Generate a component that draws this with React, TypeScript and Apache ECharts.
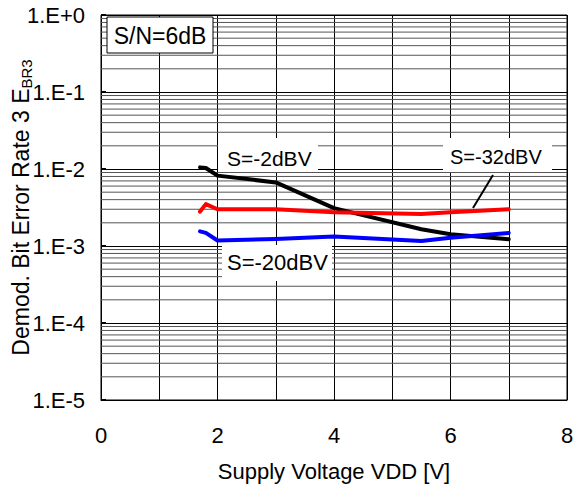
import React, { useEffect, useRef } from "react";
import * as echarts from "echarts";

const vdd = [1.7, 1.8, 2, 3, 4, 5.5, 6, 7];
const berSm2 = [1.05e-2, 1.03e-2, 8.2e-3, 6.7e-3, 3.1e-3, 1.65e-3, 1.42e-3, 1.22e-3];
const berSm32 = [2.8e-3, 3.5e-3, 3.0e-3, 3.0e-3, 2.75e-3, 2.6e-3, 2.75e-3, 3.0e-3];
const berSm20 = [1.55e-3, 1.48e-3, 1.18e-3, 1.23e-3, 1.33e-3, 1.16e-3, 1.28e-3, 1.48e-3];
const decades = [-5, -4, -3, -2, -1];
const minorMultipliers = [2, 3, 4, 5, 6, 7, 8, 9];
const xRange = [0, 8];

const FONT = "Liberation Sans, Arial, sans-serif";

export default function App() {
  const ref = useRef<HTMLDivElement>(null);
  useEffect(() => {
    if (!ref.current) return;
    const chart = echarts.init(ref.current, null, { renderer: "svg" });
    const pairs = (ys: number[]) => vdd.map((x, i) => [x, ys[i]]);
    const minorSeries: any[] = [];
    decades.forEach((d) =>
      minorMultipliers.forEach((m) => {
        const v = m * Math.pow(10, d);
        minorSeries.push({
          type: "line",
          data: [
            [xRange[0], v],
            [xRange[1], v],
          ],
          symbol: "none",
          silent: true,
          z: 1,
          lineStyle: { color: "#555", width: 1 },
        });
      })
    );
    const txt = (size: number) => ({ fontFamily: FONT, fontSize: size, fill: "#000" });
    chart.setOption({
      animation: false,
      backgroundColor: "#fff",
      grid: {
        left: 101,
        top: 15,
        width: 466,
        height: 385,
        show: true,
        borderColor: "#000",
        borderWidth: 1,
        containLabel: false,
        outerBoundsMode: "none",
      },
      xAxis: {
        type: "value",
        min: xRange[0],
        max: xRange[1],
        interval: 1,
        name: "Supply Voltage VDD [V]",
        nameLocation: "middle",
        nameGap: 60,
        nameMoveOverlap: false,
        nameTextStyle: { fontFamily: FONT, fontSize: 22, color: "#000" },
        axisLine: { show: true, lineStyle: { color: "#000" } },
        axisTick: { show: false },
        axisLabel: {
          margin: 24,
          fontFamily: FONT,
          fontSize: 22,
          color: "#000",
          formatter: (v: number) => (v % 2 === 0 ? String(v) : ""),
        },
        splitLine: { show: true, lineStyle: { color: "#000", width: 1 } },
      },
      yAxis: {
        type: "log",
        logBase: 10,
        min: 1e-5,
        max: 1,
        interval: 1,
        name: "{a|Demod. Bit Error Rate 3 E}{s|BR3}",
        nameLocation: "middle",
        nameGap: 67,
        nameMoveOverlap: false,
        nameTextStyle: {
          color: "#000",
          rich: {
            a: { fontFamily: FONT, fontSize: 23, color: "#000", lineHeight: 27 },
            s: { fontFamily: FONT, fontSize: 15, color: "#000", verticalAlign: "bottom", lineHeight: 13 },
          },
        },
        axisLine: { show: true, lineStyle: { color: "#000" } },
        axisTick: { show: true, inside: true, length: 5, lineStyle: { color: "#000", width: 2 } },
        axisLabel: {
          margin: 16,
          fontFamily: FONT,
          fontSize: 22,
          color: "#000",
          formatter: (v: number) => {
            const e = Math.round(Math.log10(v));
            return "1.E" + (e >= 0 ? "+" : "-") + Math.abs(e);
          },
        },
        splitLine: { show: true, lineStyle: { color: "#000", width: 1 } },
      },
      series: [
        ...minorSeries,
        {
          type: "line",
          name: "S=-2dBV",
          data: pairs(berSm2),
          symbol: "none",
          z: 3,
          lineStyle: { color: "#000", width: 4, cap: "round", join: "round" },
        },
        {
          type: "line",
          name: "S=-32dBV",
          data: pairs(berSm32),
          symbol: "none",
          z: 3,
          lineStyle: { color: "#ff0000", width: 4, cap: "round", join: "round" },
        },
        {
          type: "line",
          name: "S=-20dBV",
          data: pairs(berSm20),
          symbol: "none",
          z: 4,
          lineStyle: { color: "#0000ff", width: 4, cap: "round", join: "round" },
        },
      ],
      graphic: [
        {
          type: "rect",
          z: 100,
          shape: { x: 107, y: 17, width: 106, height: 36 },
          style: { fill: "#fff", stroke: "#000", lineWidth: 1 },
        },
        {
          type: "text",
          z: 101,
          x: 160,
          y: 36,
          style: { ...txt(23), text: "S/N=6dB", align: "center", verticalAlign: "middle" },
        },
        {
          type: "rect",
          z: 100,
          shape: { x: 218, y: 138, width: 100, height: 34 },
          style: { fill: "#fff" },
        },
        {
          type: "text",
          z: 101,
          x: 227,
          y: 158,
          style: { ...txt(21), text: "S=-2dBV", align: "left", verticalAlign: "middle" },
        },
        {
          type: "rect",
          z: 100,
          shape: { x: 443, y: 138, width: 109, height: 34 },
          style: { fill: "#fff" },
        },
        {
          type: "text",
          z: 101,
          x: 450,
          y: 157,
          style: { ...txt(20), text: "S=-32dBV", align: "left", verticalAlign: "middle" },
        },
        {
          type: "line",
          z: 101,
          shape: { x1: 493, y1: 175, x2: 473, y2: 208 },
          style: { stroke: "#000", lineWidth: 2 },
        },
        {
          type: "rect",
          z: 100,
          shape: { x: 222, y: 245, width: 110, height: 36 },
          style: { fill: "#fff" },
        },
        {
          type: "text",
          z: 101,
          x: 227,
          y: 262,
          style: { ...txt(22), text: "S=-20dBV", align: "left", verticalAlign: "middle" },
        },
      ],
    });
    return () => chart.dispose();
  }, []);
  return (
    <div
      ref={ref}
      style={{ position: "fixed", left: 0, top: 0, width: 574, height: 487, background: "#fff" }}
    />
  );
}
